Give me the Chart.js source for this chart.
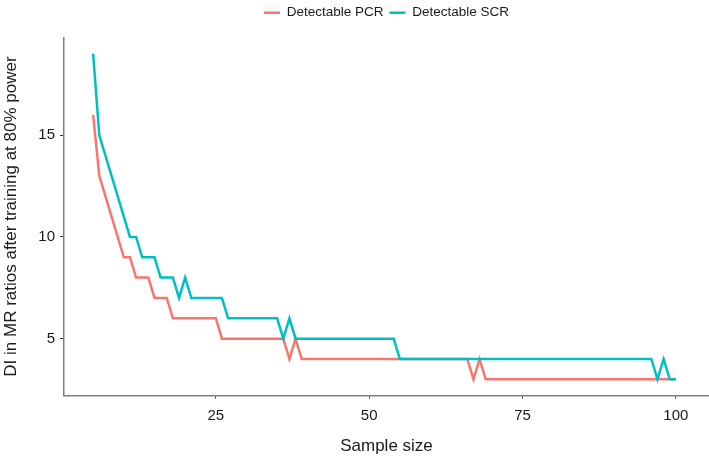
<!DOCTYPE html>
<html>
<head>
<meta charset="utf-8">
<script src="https://cdn.jsdelivr.net/npm/chart.js@4.4.1/dist/chart.umd.min.js"></script>
<style>
  html, body { margin: 0; padding: 0; background: #fff; }
  #wrap { width: 709px; height: 458px; }
</style>
</head>
<body>
<div id="wrap"><canvas id="diChart"></canvas></div>
<script>
// sample sizes on the x axis
const sampleSizes = [
    5, 6, 7, 8, 9, 10, 11, 12, 13, 14,
    15, 16, 17, 18, 19, 20, 21, 22, 23, 24,
    25, 26, 27, 28, 29, 30, 31, 32, 33, 34,
    35, 36, 37, 38, 39, 40, 41, 42, 43, 44,
    45, 46, 47, 48, 49, 50, 51, 52, 53, 54,
    55, 56, 57, 58, 59, 60, 61, 62, 63, 64,
    65, 66, 67, 68, 69, 70, 71, 72, 73, 74,
    75, 76, 77, 78, 79, 80, 81, 82, 83, 84,
    85, 86, 87, 88, 89, 90, 91, 92, 93, 94,
    95, 96, 97, 98, 99, 100
];

const pcrValues = [
    16, 13, 12, 11, 10, 9, 9, 8, 8, 8,
    7, 7, 7, 6, 6, 6, 6, 6, 6, 6,
    6, 5, 5, 5, 5, 5, 5, 5, 5, 5,
    5, 5, 4, 5, 4, 4, 4, 4, 4, 4,
    4, 4, 4, 4, 4, 4, 4, 4, 4, 4,
    4, 4, 4, 4, 4, 4, 4, 4, 4, 4,
    4, 4, 3, 4, 3, 3, 3, 3, 3, 3,
    3, 3, 3, 3, 3, 3, 3, 3, 3, 3,
    3, 3, 3, 3, 3, 3, 3, 3, 3, 3,
    3, 3, 3, 3, 3, 3
];

const scrValues = [
    19, 15, 14, 13, 12, 11, 10, 10, 9, 9,
    9, 8, 8, 8, 7, 8, 7, 7, 7, 7,
    7, 7, 6, 6, 6, 6, 6, 6, 6, 6,
    6, 5, 6, 5, 5, 5, 5, 5, 5, 5,
    5, 5, 5, 5, 5, 5, 5, 5, 5, 5,
    4, 4, 4, 4, 4, 4, 4, 4, 4, 4,
    4, 4, 4, 4, 4, 4, 4, 4, 4, 4,
    4, 4, 4, 4, 4, 4, 4, 4, 4, 4,
    4, 4, 4, 4, 4, 4, 4, 4, 4, 4,
    4, 4, 3, 4, 3, 3
];

const xTicks = [25, 50, 75, 100];
const yTicks = [5, 10, 15];

const FONT = "'Liberation Sans', Arial, sans-serif";
const AXIS_GREY = '#7f7f7f';
const TEXT = '#1a1a1a';

function toPoints(values) {
    return sampleSizes.map((n, i) => ({ x: n, y: values[i] }));
}

// extra space under the legend
const legendGap = {
    id: 'legendGap',
    beforeInit(chart) {
        const fit = chart.legend.fit;
        chart.legend.fit = function () {
            fit.bind(chart.legend)();
            this.height += 8;
        };
    }
};

const ctx = document.getElementById('diChart');

new Chart(ctx, {
    type: 'line',
    data: {
        datasets: [
            {
                label: 'Detectable PCR',
                data: toPoints(pcrValues),
                borderColor: '#F8766D',
                backgroundColor: '#F8766D',
                borderWidth: 2.5,
                pointRadius: 0,
                tension: 0,
                fill: false,
                order: 1
            },
            {
                label: 'Detectable SCR',
                data: toPoints(scrValues),
                borderColor: '#00BFC4',
                backgroundColor: '#00BFC4',
                borderWidth: 2.5,
                pointRadius: 0,
                tension: 0,
                fill: false,
                order: 0
            }
        ]
    },

    options: {
        responsive: true,
        maintainAspectRatio: false,
        animation: false,
        layout: {
            padding: { top: 0, right: 0, bottom: 1, left: 0 }
        },

        plugins: {
            legend: {
                display: true,
                position: 'top',
                fullSize: false,
                labels: {
                    usePointStyle: true,
                    pointStyle: 'line',
                    pointStyleWidth: 16,
                    color: TEXT,
                    padding: 6,
                    font: { family: FONT, size: 13.5 },
                    sort: (a, b) => a.datasetIndex - b.datasetIndex
                }
            },
            tooltip: { enabled: false }
        },

        scales: {
            x: {
                type: 'linear',
                min: 0.25,
                max: 105.4,
                afterBuildTicks: (scale) => {
                    scale.ticks = xTicks.map(v => ({ value: v }));
                },
                grid: {
                    drawOnChartArea: false,
                    drawTicks: true,
                    tickLength: 3,
                    tickColor: '#333333',
                    tickWidth: 1
                },
                border: { display: true, color: AXIS_GREY, width: 1.5 },
                ticks: {
                    color: TEXT,
                    padding: 8,
                    maxRotation: 0,
                    font: { family: FONT, size: 15 }
                },
                title: {
                    display: true,
                    text: 'Sample size',
                    color: TEXT,
                    padding: { top: 4, bottom: 0 },
                    font: { family: FONT, size: 17 }
                }
            },
            y: {
                min: 2.2,
                max: 19.8,
                afterBuildTicks: (scale) => {
                    scale.ticks = yTicks.map(v => ({ value: v }));
                },
                afterFit: (scale) => {
                    scale.width = 64;
                },
                grid: {
                    drawOnChartArea: false,
                    drawTicks: true,
                    tickLength: 4,
                    tickColor: '#333333',
                    tickWidth: 1
                },
                border: { display: true, color: AXIS_GREY, width: 1.5 },
                ticks: {
                    color: TEXT,
                    padding: 5,
                    font: { family: FONT, size: 15 }
                },
                title: {
                    display: true,
                    text: 'DI in MR ratios after training at 80% power',
                    color: TEXT,
                    padding: { top: 1, bottom: 0 },
                    font: { family: FONT, size: 17 }
                }
            }
        }
    },
    plugins: [legendGap]
});
</script>
</body>
</html>
